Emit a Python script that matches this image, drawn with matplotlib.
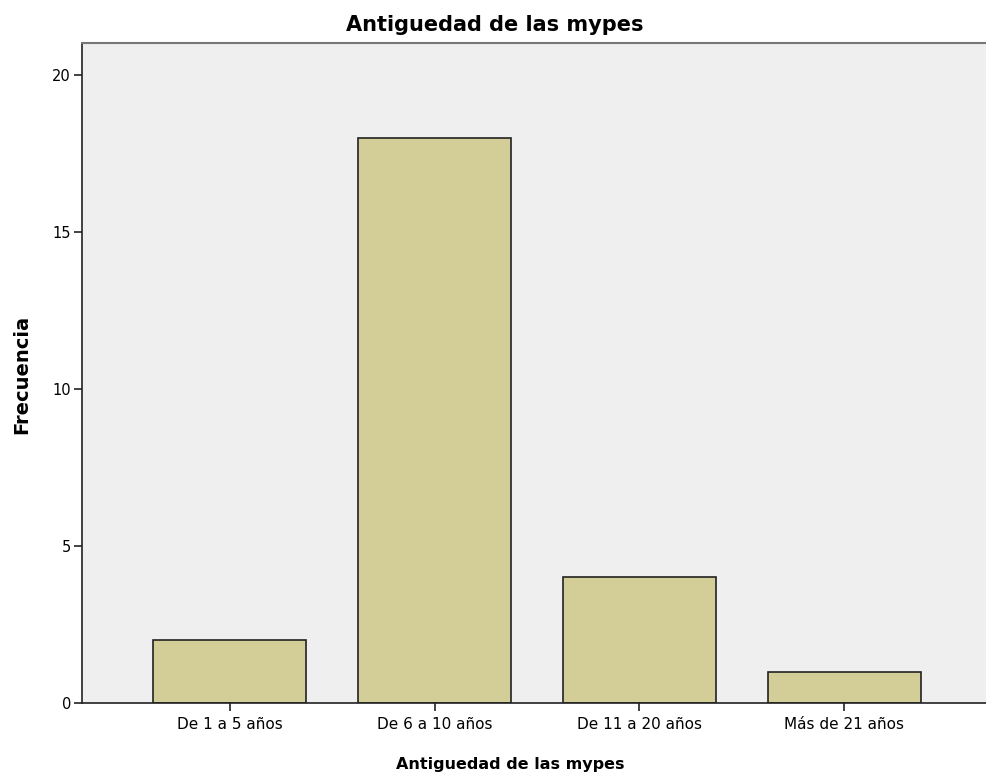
import matplotlib
matplotlib.use("Agg")
import matplotlib.pyplot as plt

categories = ["De 1 a 5 años", "De 6 a 10 años", "De 11 a 20 años", "Más de 21 años"]
frecuencia = [2, 18, 4, 1]
y_ticks = [0, 5, 10, 15, 20]

plt.rcParams['font.family'] = ['DejaVu Sans']

fig = plt.figure(figsize=(9.87, 7.8), dpi=100)
ax = fig.add_axes([82 / 987, 77 / 780, 909 / 987, 660 / 780])
ax.set_facecolor("#efefef")

x = range(len(categories))
ax.bar(x, frecuencia, width=0.75, color="#d3ce97", edgecolor="#222222", linewidth=1.2)

ax.set_xlim(-0.72, 3.715)
ax.set_ylim(0, 21.02)
ax.set_xticks(list(x))
ax.set_xticklabels(categories, fontsize=11)
ax.set_yticks(y_ticks)
ax.set_yticklabels([str(v) for v in y_ticks], fontsize=10.5)
ax.tick_params(direction="out", length=6, width=1.2, color="#222222")
ax.tick_params(axis="x", pad=4)
ax.tick_params(axis="y", pad=2)

for side in ["left", "bottom"]:
    ax.spines[side].set_color("#222222")
    ax.spines[side].set_linewidth(1.2)
ax.spines["top"].set_color("#777777")
ax.spines["top"].set_linewidth(1.5)
ax.spines["right"].set_visible(False)

fig.text(495 / 987, 1 - 25 / 780, "Antiguedad de las mypes", fontsize=15,
         fontweight="bold", ha="center", va="center")
fig.text(510 / 987, 1 - 765 / 780, "Antiguedad de las mypes", fontsize=11.5,
         fontweight="bold", ha="center", va="center")
fig.text(22 / 987, 1 - 374 / 780, "Frecuencia", fontsize=14,
         fontweight="bold", ha="center", va="center", rotation=90)

fig.savefig("out.png", dpi=100)
